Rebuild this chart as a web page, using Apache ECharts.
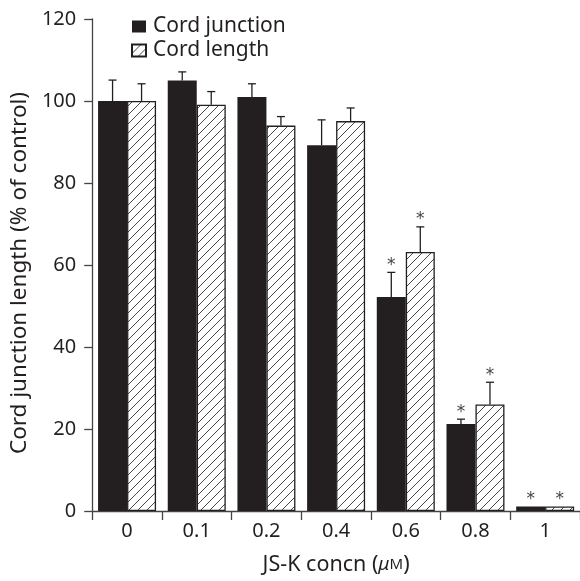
<!DOCTYPE html>
<html><head><meta charset="utf-8">
<script src="https://cdn.jsdelivr.net/npm/echarts@6/dist/echarts.min.js"></script>
<style>html,body{margin:0;padding:0;background:#fff}#c{width:580px;height:581px}</style>
</head><body><div id="c"></div>
<script>
const categories = ['0','0.1','0.2','0.4','0.6','0.8','1'];
const junction   = [100, 105, 101, 89.2, 52.2, 21.2, 1.1];
const junctionSD = [5.1, 2.1, 3.2, 6.2, 6.0, 1.2, 0];
const junctionSig = [0,0,0,0,1,1,1];
const lengthVals = [100, 99.1, 94, 95.1, 63.2, 26, 1.1];
const lengthSD   = [4.2, 3.2, 2.2, 3.2, 6.1, 5.4, 0];
const lengthSig  = [0,0,0,0,1,1,1];
const yTicks = [0,20,40,60,80,100,120];

const FONT = 'Noto Sans';
const INK = '#231f20';

function hatch(){
  const s = 9, c = document.createElement('canvas');
  c.width = s; c.height = s;
  const g = c.getContext('2d');
  g.fillStyle = '#fff'; g.fillRect(0,0,s,s);
  g.strokeStyle = '#333'; g.lineWidth = 0.9;
  g.beginPath();
  g.moveTo(-1, s+1); g.lineTo(s+1, -1);
  g.moveTo(-1, 1); g.lineTo(1, -1);
  g.moveTo(s-1, s+1); g.lineTo(s+1, s-1);
  g.stroke();
  return c;
}
const hatchPattern = {image: hatch(), repeat: 'repeat'};

const BW = 29;
function errSeries(vals, sds, sig, side){
  return {
    type: 'custom',
    silent: true,
    z: 5,
    data: vals.map((v,i)=>[i, v, sds[i], sig[i]]),
    renderItem: function(params, api){
      const i = api.value(0), v = api.value(1), sd = api.value(2), s = api.value(3);
      const base = api.coord([i, v]);
      const top = api.coord([i, v + sd]);
      const x = base[0] + side * BW/2;
      const ch = [];
      if (sd > 0){
        ch.push({type:'line', shape:{x1:x, y1:base[1], x2:x, y2:top[1]}, style:{stroke:INK, lineWidth:1.3}});
        ch.push({type:'line', shape:{x1:x-4, y1:top[1], x2:x+4, y2:top[1]}, style:{stroke:INK, lineWidth:1.3}});
      }
      if (s){
        ch.push({type:'text', x:x, y:top[1]-7, style:{text:'*', fill:'#444', font:'17px "DejaVu Sans"', align:'center', verticalAlign:'middle'}});
      }
      return {type:'group', children: ch};
    }
  };
}

const chart = echarts.init(document.getElementById('c'), null, {renderer:'canvas'});
chart.setOption({
  animation: false,
  backgroundColor: '#fff',
  textStyle: {fontFamily: FONT},
  grid: {left: 89, top: 19, width: 497, height: 497, containLabel: false},
  legend: {
    orient: 'vertical', left: 131, top: 16, padding: 0, itemWidth: 14, itemHeight: 12, itemGap: 3,
    icon: 'rect',
    textStyle: {fontFamily: FONT, fontSize: 21, color: INK, padding:[0,0,0,2]},
    data: ['Cord junction', 'Cord length']
  },
  xAxis: {
    type: 'category', data: categories,
    name: 'JS-K concn ({mu|μ}{m|M})', nameLocation: 'middle', nameGap: 43,
    nameTextStyle: {fontFamily: FONT, fontSize: 21.5, color: INK,
      rich: {mu:{fontFamily: FONT, fontSize: 19, fontStyle:'italic', color: INK}, m:{fontFamily: FONT, fontSize: 15, color: INK}}},
    axisLine: {lineStyle: {color: '#444', width: 1.3}},
    axisTick: {show: true, length: 9, lineStyle: {color: '#444', width: 1.3}},
    axisLabel: {fontFamily: FONT, fontSize: 20, color: INK, margin: 10},
    splitLine: {show: false}
  },
  yAxis: {
    type: 'value', min: 0, max: 120, interval: 20,
    name: 'Cord junction length (% of control)', nameLocation: 'middle', nameGap: 56,
    nameTextStyle: {fontFamily: FONT, fontSize: 22.5, color: INK, padding: [0, 16, 0, 0]},
    axisLine: {show: true, lineStyle: {color: '#444', width: 1.3}},
    axisTick: {show: true, length: 8, lineStyle: {color: '#444', width: 1.3}},
    axisLabel: {fontFamily: FONT, fontSize: 20, color: INK, margin: 16,
      formatter: v => yTicks.includes(v) ? String(v) : ''},
    splitLine: {show: false}
  },
  series: [
    {name: 'Cord junction', type: 'bar', data: junction, barWidth: BW, barGap: '0%',
      itemStyle: {color: INK, borderColor: INK, borderWidth: 0}},
    {name: 'Cord length', type: 'bar', data: lengthVals, barWidth: BW, barGap: '0%',
      itemStyle: {color: hatchPattern, borderColor: INK, borderWidth: 1.3}},
    errSeries(junction, junctionSD, junctionSig, -1),
    errSeries(lengthVals, lengthSD, lengthSig, 1)
  ]
});
</script></body></html>
